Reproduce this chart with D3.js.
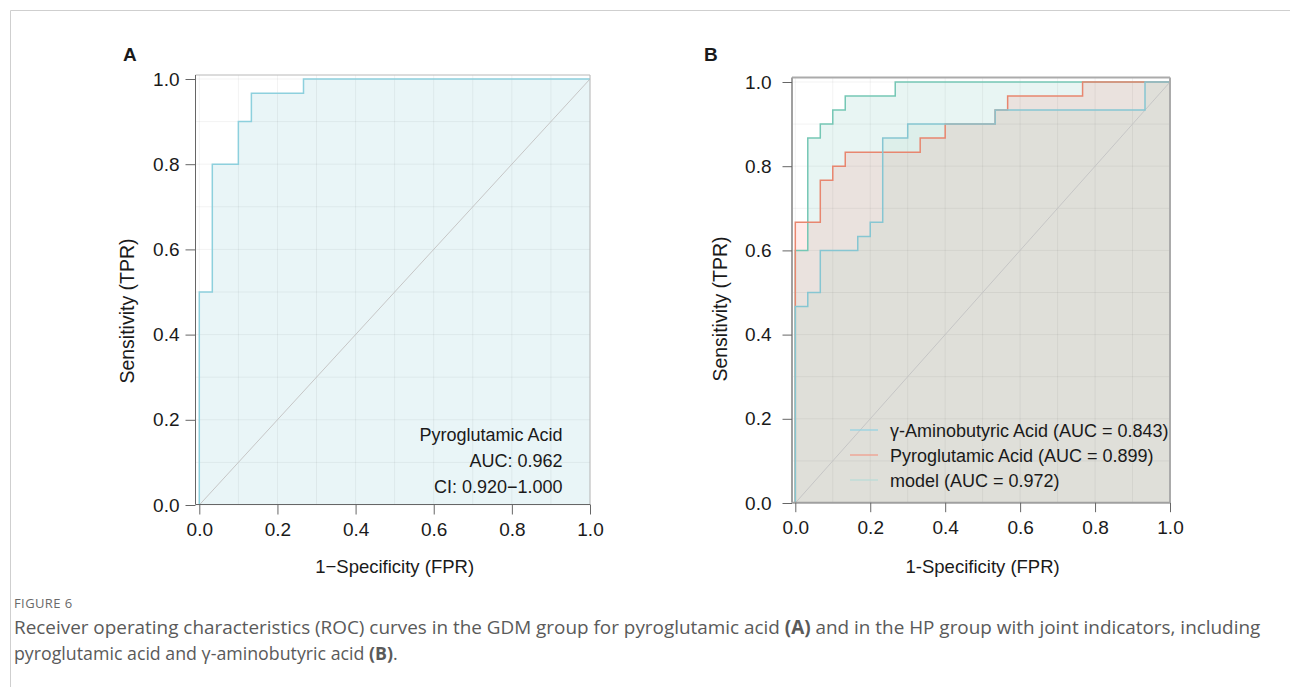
<!DOCTYPE html>
<html><head><meta charset="utf-8">
<script src="https://cdn.jsdelivr.net/npm/d3@7"></script>
<style>
body{margin:0;background:#fff}
svg{display:block}
.ch text{font-family:"Liberation Sans",Arial,sans-serif;fill:#1a1a1a}
.cap{font-family:"Open Sans","Noto Sans",sans-serif}
</style>
</head><body>
<svg id="c" width="1290" height="687"></svg>
<script>
// ---- data ----
const tickVals = [0, 0.2, 0.4, 0.6, 0.8, 1.0];
const gridVals = [0,0.1,0.2,0.3,0.4,0.5,0.6,0.7,0.8,0.9,1.0];

// Panel A: Pyroglutamic acid (GDM group)
const aFpr = [0, 0, 0.0333, 0.1, 0.1333, 0.2667, 1];
const aTpr = [0, 0.5, 0.8, 0.9, 0.9667, 1, 1];
const aLabels = ["Pyroglutamic Acid", "AUC: 0.962", "CI: 0.920\u22121.000"];

// Panel B: HP group
const seriesNames = ["\u03b3-Aminobutyric Acid (AUC = 0.843)", "Pyroglutamic Acid (AUC = 0.899)", "model (AUC = 0.972)"];
const gabaFpr = [0, 0, 0.0333, 0.0667, 0.1667, 0.2, 0.2333, 0.3, 0.5333, 0.9333, 1];
const gabaTpr = [0, 0.4667, 0.5, 0.6, 0.6333, 0.6667, 0.8667, 0.9, 0.9333, 1, 1];
const pyroFpr = [0, 0, 0.0667, 0.1, 0.1333, 0.3333, 0.4, 0.5333, 0.5667, 0.7667, 1];
const pyroTpr = [0, 0.6667, 0.7667, 0.8, 0.8333, 0.8667, 0.9, 0.9333, 0.9667, 1, 1];
const modelFpr = [0, 0, 0.0333, 0.0667, 0.1, 0.1333, 0.2667, 1];
const modelTpr = [0, 0.6, 0.8667, 0.9, 0.9333, 0.9667, 1, 1];

const svg = d3.select("#c");
const ch = svg.append("g").attr("class","ch");

const zip = (f,t) => f.map((d,i)=>({fpr:d,tpr:t[i]}));

// frame
svg.append("line").attr("x1",10.5).attr("y1",10.5).attr("x2",1290).attr("y2",10.5).attr("stroke","#cfcfcf");
svg.append("line").attr("x1",10.5).attr("y1",10.5).attr("x2",10.5).attr("y2",687).attr("stroke","#cfcfcf");

function panel(o){
  const g = ch.append("g");
  const x = d3.scaleLinear().domain([0,1]).range([o.x0,o.x1]);
  const y = d3.scaleLinear().domain([0,1]).range([o.y0,o.y1]);
  const area = d3.area().curve(d3.curveStepAfter).x(d=>x(d.fpr)).y0(y(0)).y1(d=>y(d.tpr));
  const line = d3.line().curve(d3.curveStepAfter).x(d=>x(d.fpr)).y(d=>y(d.tpr));
  o.series.forEach(s=>{
    g.append("path").datum(s.data).attr("d",area).attr("fill",s.fill).attr("fill-opacity",s.fop);
  });
  // grid
  g.selectAll(".gx").data(gridVals).join("line")
    .attr("x1",d=>x(d)).attr("x2",d=>x(d)).attr("y1",o.top).attr("y2",o.bottom)
    .attr("stroke","rgba(0,0,0,0.05)");
  g.selectAll(".gy").data(gridVals).join("line")
    .attr("y1",d=>y(d)).attr("y2",d=>y(d)).attr("x1",o.left).attr("x2",o.right)
    .attr("stroke","rgba(0,0,0,0.05)");
  // diagonal
  g.append("line").attr("x1",x(0)).attr("y1",y(0)).attr("x2",x(1)).attr("y2",y(1))
    .attr("stroke","#c6c6c6").attr("stroke-width",1);
  o.series.forEach(s=>{
    g.append("path").datum(s.data).attr("d",line).attr("fill","none").attr("stroke",s.stroke).attr("stroke-width",1.5);
  });
  // frame
  g.append("line").attr("x1",o.left).attr("x2",o.right).attr("y1",o.top).attr("y2",o.top).attr("stroke",o.frame).attr("stroke-width",o.fw);
  g.append("line").attr("x1",o.right).attr("x2",o.right).attr("y1",o.top).attr("y2",o.bottom).attr("stroke",o.frame).attr("stroke-width",o.fw);
  g.append("line").attr("x1",o.left).attr("x2",o.left).attr("y1",o.top).attr("y2",o.bottom).attr("stroke",o.axis).attr("stroke-width",o.aw);
  g.append("line").attr("x1",o.left).attr("x2",o.right).attr("y1",o.bottom).attr("y2",o.bottom).attr("stroke",o.axis).attr("stroke-width",o.aw);
  // axes
  const ya = g.append("g").attr("transform",`translate(${o.left},0)`)
    .call(d3.axisLeft(y).tickValues(tickVals).tickSize(o.tick).tickSizeOuter(0).tickPadding(o.padY).tickFormat(d3.format(".1f")));
  const xa = g.append("g").attr("transform",`translate(0,${o.bottom})`)
    .call(d3.axisBottom(x).tickValues(tickVals).tickSize(o.tick).tickSizeOuter(0).tickPadding(o.padX).tickFormat(d3.format(".1f")));
  [ya,xa].forEach(a=>{
    a.select(".domain").remove();
    a.selectAll("line").attr("stroke","#666");
    a.selectAll("text").attr("font-size",19).attr("font-family","Liberation Sans, Arial, sans-serif").attr("fill","#1a1a1a");
  });
  // titles
  g.append("text").attr("x",(x(0)+x(1))/2).attr("y",o.xtY).attr("text-anchor","middle").attr("font-size",18.5).text(o.xTitle);
  g.append("text").attr("transform",`translate(${o.ytX},${o.ytY}) rotate(-90)`).attr("text-anchor","middle").attr("font-size",19.5).text("Sensitivity (TPR)");
  g.append("text").attr("x",o.labX).attr("y",61).attr("font-size",19).attr("font-weight","bold").text(o.label);
  return {g,x,y};
}

const A = panel({
  x0:199.3, x1:590, y0:505, y1:79,
  left:195.5, right:590, top:75, bottom:504.5,
  tick:10, padY:6, padX:8,
  frame:"#b8b8b8", fw:1, axis:"#666", aw:1,
  series:[{data:zip(aFpr,aTpr), fill:"#e9f5f7", fop:1, stroke:"#8dd0dd"}],
  xTitle:"1\u2212Specificity (FPR)", xtY:572.5, ytX:134, ytY:311, label:"A", labX:123
});
A.g.selectAll(".ann").data(aLabels).join("text")
  .attr("x",562.5).attr("y",(d,i)=>440.5+i*26).attr("text-anchor","end").attr("font-size",18).text(d=>d);

const B = panel({
  x0:795.3, x1:1170, y0:503, y1:82,
  left:792, right:1170, top:77.5, bottom:502.7,
  tick:9.5, padY:11, padX:8.5,
  frame:"#ababab", fw:2, axis:"#a0a0a0", aw:2,
  series:[
    {data:zip(modelFpr,modelTpr), fill:"#66bcaf", fop:0.15, stroke:"#75c7b5"},
    {data:zip(pyroFpr,pyroTpr), fill:"#f8766d", fop:0.15, stroke:"#e8866f"},
    {data:zip(gabaFpr,gabaTpr), fill:"#a1cebe", fop:0.15, stroke:"#86c6d2"}
  ],
  xTitle:"1-Specificity (FPR)", xtY:573, ytX:727, ytY:309, label:"B", labX:704
});
const legCols = ["#8fd3e3","#f29a88","#b8ddd7"];
const leg = B.g.selectAll(".leg").data(seriesNames).join("g")
  .attr("transform",(d,i)=>`translate(850,${430+i*25})`);
leg.append("line").attr("x1",0).attr("x2",28).attr("y1",0).attr("y2",0).attr("stroke",(d,i)=>legCols[i]).attr("stroke-width",1.2);
leg.append("text").attr("x",40).attr("y",6.5).attr("font-size",18).text(d=>d);

// caption
const cap = svg.append("g");
cap.append("text").attr("class","cap").attr("x",14).attr("y",607.5).attr("font-size",13).attr("fill","#6a6a6a").attr("letter-spacing",0.4).text("FIGURE 6");
function capLine(parts, y, target){
  const t = cap.append("text").attr("class","cap").attr("x",14).attr("y",y).attr("font-size",16).attr("fill","#5a5a5a");
  parts.forEach(p=>t.append("tspan").attr("font-weight",p[1]?"bold":null).text(p[0]));
  const w = t.node().getComputedTextLength();
  t.attr("font-size", 16*target/w);
}
capLine([["Receiver operating characteristics (ROC) curves in the GDM group for pyroglutamic acid ",0],["(A)",1],[" and in the HP group with joint indicators, including",0]], 634, 1247);
capLine([["pyroglutamic acid and \u03b3-aminobutyric acid ",0],["(B)",1],[".",0]], 659.5, 384);
</script>
</body></html>
